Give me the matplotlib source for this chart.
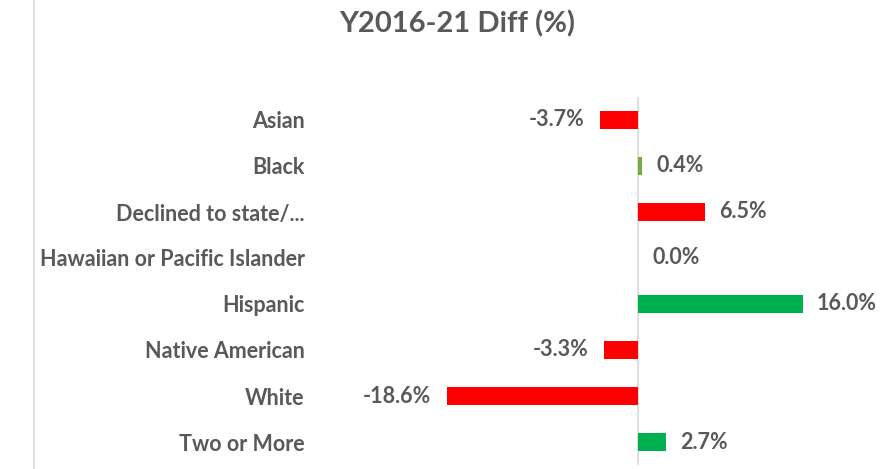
import matplotlib
matplotlib.use("Agg")
from matplotlib import pyplot as plt
from matplotlib.lines import Line2D

categories = ["Asian", "Black", "Declined to state/...", "Hawaiian or Pacific Islander",
              "Hispanic", "Native American", "White", "Two or More"]
diff_pct = [-3.7, 0.4, 6.5, 0.0, 16.0, -3.3, -18.6, 2.7]
bar_colors = ["#FF0000", "#70AD47", "#FF0000", "#FF0000",
              "#00B050", "#FF0000", "#FF0000", "#00B050"]

plt.rcParams['font.family'] = ['Lato', 'DejaVu Sans']
text_color = '#595959'


def show_diff():
    fig = plt.figure(figsize=(8.84, 4.69), dpi=100)
    ax = fig.add_axes([320 / 884, 4 / 469, 550 / 884, 368 / 469])
    pos = range(len(categories))
    ax.barh(pos, diff_pct, height=0.37, color=bar_colors)
    ax.set_ylim(len(categories) - 0.5, -0.5)
    ax.set_xlim(-30.9, 22.5)
    ax.set_yticks(list(pos))
    ax.set_yticklabels(categories, fontsize=15.5, fontweight='bold', color=text_color)
    ax.tick_params(axis='y', length=0, pad=11)
    ax.set_xticks([])
    for s in ['top', 'right', 'bottom', 'left']:
        ax.spines[s].set_visible(False)
    ax.axvline(0, color='#d9d9d9', lw=1.2, zorder=0)

    for i, v in enumerate(diff_pct):
        if v < 0:
            ax.annotate(f"{v:.1f}%", (v, i), xytext=(-11, 0), textcoords='offset points',
                        ha='right', va='center', fontsize=15.5, fontweight='bold', color=text_color)
        else:
            ax.annotate(f"{v:.1f}%", (v, i), xytext=(10, 0), textcoords='offset points',
                        ha='left', va='center', fontsize=15.5, fontweight='bold', color=text_color)

    fig.text(457 / 884, 1 - 24 / 469, "Y2016-21 Diff (%)", ha='center', va='center',
             fontsize=21, fontweight='bold', color=text_color)
    fig.add_artist(Line2D([34 / 884, 34 / 884], [0, 1], color='#d9d9d9', lw=1.2))
    fig.savefig('out.png', dpi=100)


if __name__ == '__main__':
    show_diff()
